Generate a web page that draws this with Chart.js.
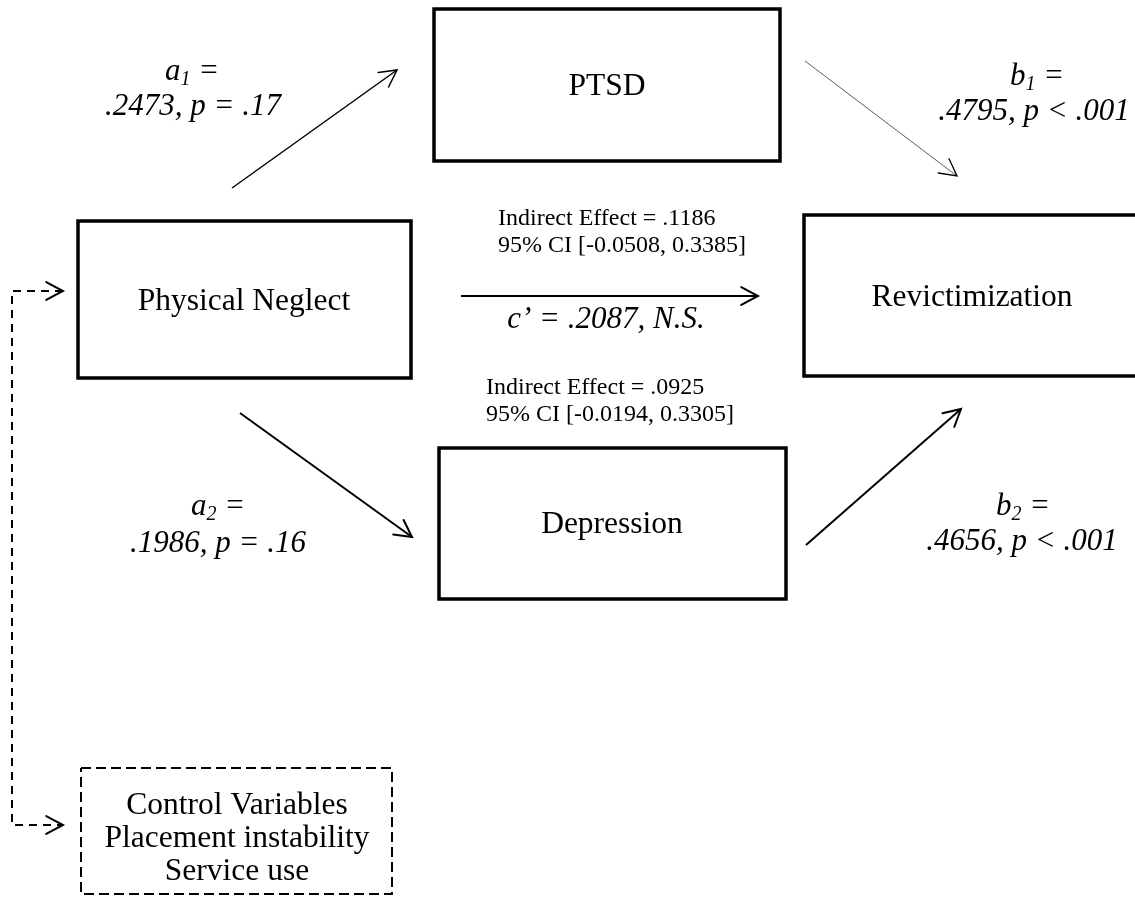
<!DOCTYPE html>
<html>
<head>
<meta charset="utf-8">
<script src="https://cdn.jsdelivr.net/npm/chart.js@4"></script>
<style>
html,body{margin:0;padding:0;background:#fff;}
canvas{display:block;}
</style>
</head>
<body>
<canvas id="c" width="1135" height="897"></canvas>
<script>
// ---- content ----
const nodeNames = ['Physical Neglect', 'PTSD', 'Depression', 'Revictimization'];
const controlTitle = 'Control Variables';
const controlVars = ['Placement instability', 'Service use'];
const pathSymbols = ['a', 'b', 'c’', 'a', 'b'];
const pathSubscripts = ['1', '1', '', '2', '2'];
const pathCoefs = ['.2473', '.4795', '.2087', '.1986', '.4656'];
const pathSig = ['p = .17', 'p < .001', 'N.S.', 'p = .16', 'p < .001'];
const indirectEffects = ['.1186', '.0925'];
const indirectCILow = ['-0.0508', '-0.0194'];
const indirectCIHigh = ['0.3385', '0.3305'];

// ---- layout (diagram units) ----
const boxLeft = [78, 434, 439, 804];
const boxTop = [221, 9, 448, 215];
const boxRight = [411, 780, 786, 1142];
const boxBottom = [378, 161, 599, 376];
const ctrlBox = [81, 768, 392, 894];
const arrowFrom = [[232, 188], [805, 61], [461, 296], [240, 413], [806, 545]];
const arrowTo = [[397, 70], [957, 176], [758, 296], [412, 537], [961, 409]];
const arrowWidth = [1.5, 0.8, 2, 2, 2];
const connector = [[63, 291], [12, 291], [12, 825], [63, 825]];

const FONT = '"Liberation Serif", "Times New Roman", serif';

const datasets = [];
nodeNames.forEach((n, i) => {
  datasets.push({
    label: n,
    data: [
      {x: boxLeft[i], y: boxTop[i]}, {x: boxRight[i], y: boxTop[i]},
      {x: boxRight[i], y: boxBottom[i]}, {x: boxLeft[i], y: boxBottom[i]},
      {x: boxLeft[i], y: boxTop[i]}
    ],
    showLine: true, borderColor: '#000', borderWidth: 3.5, pointRadius: 0,
    borderJoinStyle: 'miter', borderCapStyle: 'square', fill: false, tension: 0
  });
});
datasets.push({
  label: controlTitle,
  data: [
    {x: ctrlBox[0], y: ctrlBox[1]}, {x: ctrlBox[2], y: ctrlBox[1]},
    {x: ctrlBox[2], y: ctrlBox[3]}, {x: ctrlBox[0], y: ctrlBox[3]},
    {x: ctrlBox[0], y: ctrlBox[1]}
  ],
  showLine: true, borderColor: '#000', borderWidth: 2, borderDash: [10, 5], pointRadius: 0,
  fill: false, tension: 0
});
arrowFrom.forEach((f, i) => {
  datasets.push({
    label: pathSymbols[i] + pathSubscripts[i],
    data: [{x: f[0], y: f[1]}, {x: arrowTo[i][0], y: arrowTo[i][1]}],
    showLine: true, borderColor: i === 1 ? '#333' : '#000', borderWidth: arrowWidth[i], pointRadius: 0,
    fill: false, tension: 0, arrowEnd: true
  });
});
datasets.push({
  label: 'controls',
  data: connector.map(p => ({x: p[0], y: p[1]})),
  showLine: true, borderColor: '#000', borderWidth: 2, borderDash: [8, 6], pointRadius: 0,
  fill: false, tension: 0, arrowEnd: true, arrowStart: true
});

function head(ctx, tx, ty, fx, fy, len, ang, lw) {
  const a = Math.atan2(fy - ty, fx - tx);
  ctx.save();
  ctx.setLineDash([]);
  ctx.lineWidth = lw;
  ctx.strokeStyle = '#000';
  ctx.lineCap = 'round';
  ctx.lineJoin = 'miter';
  ctx.beginPath();
  ctx.moveTo(tx + len * Math.cos(a + ang), ty + len * Math.sin(a + ang));
  ctx.lineTo(tx, ty);
  ctx.lineTo(tx + len * Math.cos(a - ang), ty + len * Math.sin(a - ang));
  ctx.stroke();
  ctx.restore();
}

function runs(ctx, parts, x, y, align) {
  let w = 0;
  parts.forEach(p => { ctx.font = p.f; w += ctx.measureText(p.t).width; });
  let cx = align === 'center' ? x - w / 2 : x;
  parts.forEach(p => {
    ctx.font = p.f;
    ctx.fillText(p.t, cx, y + (p.dy || 0));
    cx += ctx.measureText(p.t).width;
  });
}

const overlay = {
  id: 'overlay',
  afterDatasetsDraw(chart) {
    const ctx = chart.ctx;
    const xs = chart.scales.x, ys = chart.scales.y;
    const X = v => xs.getPixelForValue(v), Y = v => ys.getPixelForValue(v);
    chart.data.datasets.forEach(ds => {
      const d = ds.data, n = d.length;
      const lw = Math.max(ds.borderWidth, 1.3);
      if (ds.arrowEnd) head(ctx, X(d[n-1].x), Y(d[n-1].y), X(d[n-2].x), Y(d[n-2].y), 19, 0.49, lw);
      if (ds.arrowStart) head(ctx, X(d[0].x), Y(d[0].y), X(d[1].x), Y(d[1].y), 19, 0.49, lw);
    });
    ctx.save();
    ctx.fillStyle = '#000';
    ctx.textBaseline = 'alphabetic';
    ctx.textAlign = 'left';
    const R = '31.5px ' + FONT, I = 'italic 31px ' + FONT, S = 'italic 20px ' + FONT, SM = '24px ' + FONT;
    // node labels
    const labelPos = [[244, 310], [607, 95], [612, 533], [972, 306]];
    nodeNames.forEach((n, i) => runs(ctx, [{t: n, f: R}], X(labelPos[i][0]), Y(labelPos[i][1]), 'center'));
    // control box
    const ctrlLines = [controlTitle].concat(controlVars);
    const ctrlY = [814, 847, 880];
    ctrlLines.forEach((t, i) => runs(ctx, [{t: t, f: R}], X(237), Y(ctrlY[i]), 'center'));
    // path coefficient labels
    const lab = [[192, 80, 193, 115], [1037, 85, 1034, 120], null, [218, 515, 218, 552], [1023, 515, 1022, 550]];
    lab.forEach((p, i) => {
      if (!p) return;
      runs(ctx, [{t: pathSymbols[i], f: I}, {t: pathSubscripts[i], f: S, dy: 5}, {t: ' =', f: I}], X(p[0]), Y(p[1]), 'center');
      runs(ctx, [{t: pathCoefs[i] + ', ' + pathSig[i], f: I}], X(p[2]), Y(p[3]), 'center');
    });
    runs(ctx, [{t: pathSymbols[2] + ' = ' + pathCoefs[2] + ', ' + pathSig[2], f: I}], X(606), Y(328), 'center');
    // indirect effects
    const ind = [[498, 225, 252], [486, 394, 421]];
    ind.forEach((p, i) => {
      runs(ctx, [{t: 'Indirect Effect = ' + indirectEffects[i], f: SM}], X(p[0]), Y(p[1]), 'left');
      runs(ctx, [{t: '95% CI [' + indirectCILow[i] + ', ' + indirectCIHigh[i] + ']', f: SM}], X(p[0]), Y(p[2]), 'left');
    });
    ctx.restore();
  }
};

new Chart(document.getElementById('c'), {
  type: 'scatter',
  data: {datasets: datasets},
  options: {
    responsive: false,
    animation: false,
    devicePixelRatio: 1,
    layout: {padding: 0},
    plugins: {legend: {display: false}, tooltip: {enabled: false}, title: {display: false}},
    scales: {
      x: {type: 'linear', min: 0, max: 1135, display: false},
      y: {type: 'linear', min: 0, max: 897, reverse: true, display: false}
    },
    events: []
  },
  plugins: [overlay]
});
</script>
</body>
</html>
